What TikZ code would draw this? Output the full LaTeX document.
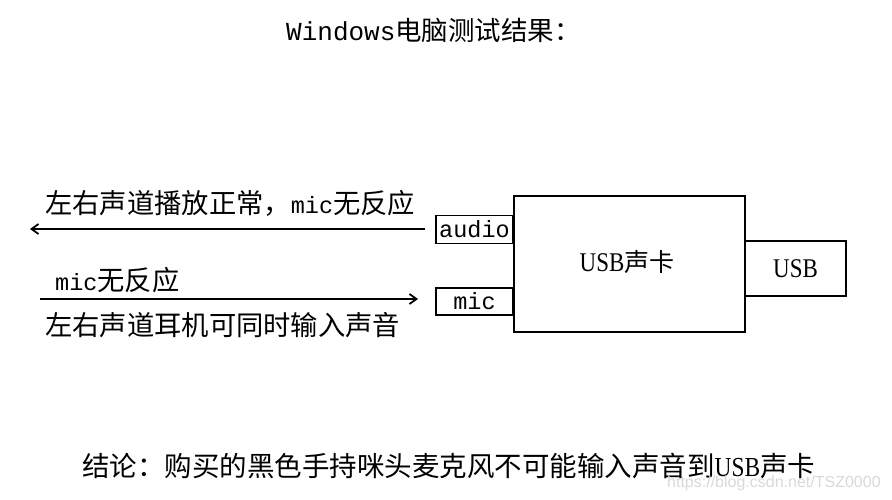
\documentclass[tikz,border=0pt]{standalone}
\usepackage{fontspec}
\newfontfamily\cjk{Noto Sans CJK SC}
\newfontfamily\lmono{Liberation Mono}
\newfontfamily\lserif{Liberation Serif}
\newfontfamily\lsans{Liberation Sans}
\usetikzlibrary{arrows.meta}
\newcommand{\narrowusb}[1]{\scalebox{0.85}[1]{\lserif\fontsize{#1}{30}\selectfont USB}}
\begin{document}
\begin{tikzpicture}[x=1pt,y=-1pt,
  box/.style={draw=black,line width=1.8pt,inner sep=0pt},
  lbl/.style={anchor=west,inner sep=0pt,font=\cjk\fontsize{27.3}{30}\selectfont},
  conn/.style={line width=1.8pt,-{Straight Barb[length=7pt,width=10pt,line width=1.8pt]}}]
\useasboundingbox[fill=white] (0,0) rectangle (892,500);
% title
\node[lbl,font=\cjk\fontsize{26.5}{28}\selectfont] (title) at (286,30) {{\lmono\fontsize{26}{28}\selectfont Windows}电脑测试结果：};
% boxes
\node[box,minimum width=231pt,minimum height=136pt] (card) at (629.5,264) {};
\node[inner sep=0pt,font=\cjk\fontsize{25}{28}\selectfont] (cardtxt) at (627,262) {\narrowusb{27}声卡};
\node[box,minimum width=77pt,minimum height=28pt,font=\lmono\fontsize{23.5}{26}\selectfont] (audio) at (474.5,229.5) {audio};
\node[box,minimum width=77pt,minimum height=27pt,font=\lmono\fontsize{23.5}{26}\selectfont] (mic) at (474.5,301.5) {mic};
\node[box,minimum width=101pt,minimum height=55pt,inner sep=0pt] (usb) at (795.5,268.5) {\narrowusb{27}};
% arrows
\coordinate (a1s) at (425,229);
\coordinate (a1e) at (30,229);
\coordinate (a2s) at (40,299);
\coordinate (a2e) at (418,299);
\draw[conn] (a1s) -- (a1e);
\draw[conn] (a2s) -- (a2e);
% labels
\node[lbl] (l1) at (45,203) {左右声道播放正常，{\lmono\fontsize{23.5}{26}\selectfont mic}无反应};
\node[lbl] (l2) at (55,280) {{\lmono\fontsize{23.5}{26}\selectfont mic}无反应};
\node[lbl] (l3) at (45,325) {左右声道耳机可同时输入声音};
\node[lbl,font=\cjk\fontsize{27.5}{30}\selectfont] (concl) at (82,466) {结论：购买的黑色手持咪头麦克风不可能输入声音到\narrowusb{27.5}声卡};
\node[anchor=west,inner sep=0pt,text=black!15,font=\lsans\fontsize{16}{18}\selectfont] (wm) at (667,483) {https://blog.csdn.net/TSZ0000};
\end{tikzpicture}
\end{document}
